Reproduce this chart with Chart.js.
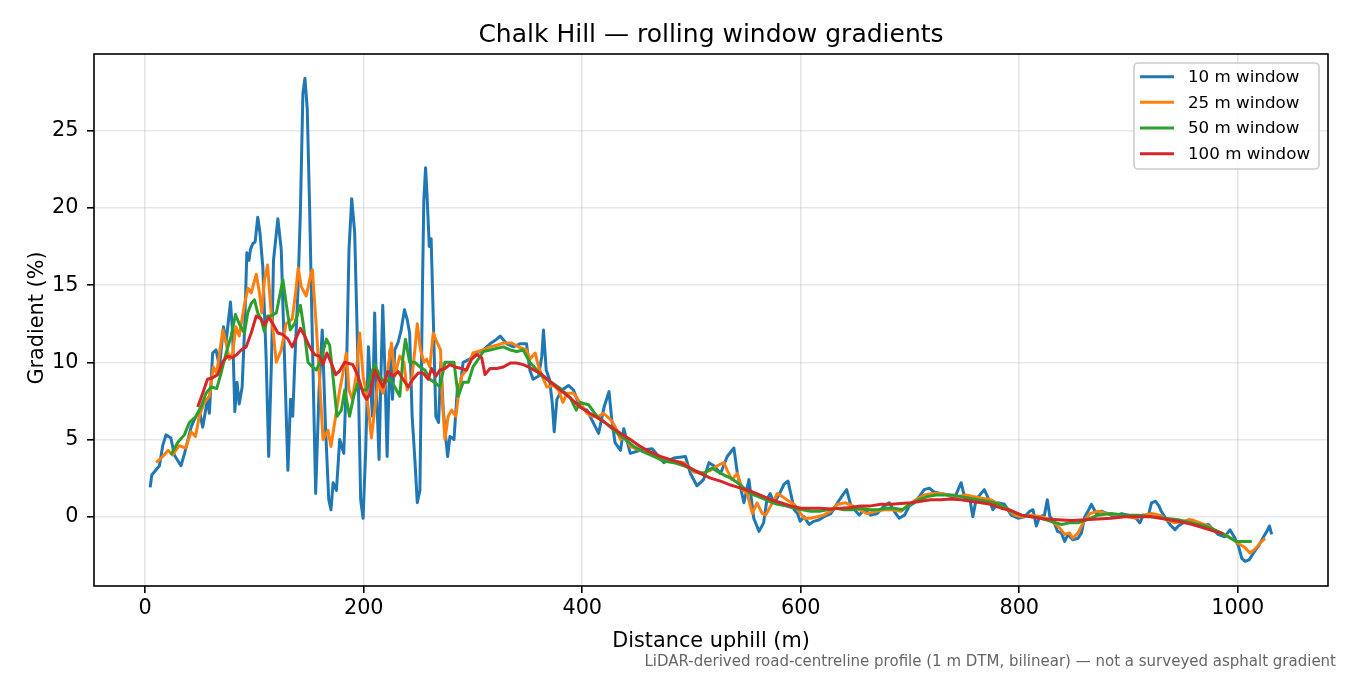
<!DOCTYPE html>
<html>
<head>
<meta charset="utf-8">
<title>Chalk Hill — rolling window gradients</title>
<script src="https://cdn.jsdelivr.net/npm/chart.js@4.4.1/dist/chart.umd.min.js"></script>
<style>
    html, body { margin: 0; padding: 0; background: #fff; }
    #wrap { width: 1350px; height: 675px; }
</style>
</head>
<body>
<div id="wrap"><canvas id="gradientChart" width="1350" height="675"></canvas></div>
<script>
// Axis ticks and labels
const xTicks = [0, 200, 400, 600, 800, 1000];
const yTicks = [0, 5, 10, 15, 20, 25];
const seriesLabels = ['10 m window', '25 m window', '50 m window', '100 m window'];
const seriesColors = ['#1f77b4', '#ff7f0e', '#2ca02c', '#d62728'];

// 10 m window (distance m / gradient %)
const dist10 = [4.5, 6, 13, 16, 19, 23.5, 26.6, 32.7, 36, 42, 45, 49.5, 52.6, 57, 58.7, 61.7, 64.8, 68, 71.6, 74,
    78, 80, 82, 84, 86, 88.7, 91, 93, 95, 96.3, 98.5, 100.6, 103, 105, 107.6, 110.7, 113, 115.6, 117.4, 121.4,
    124.5, 126.6, 130.6, 133, 135, 137, 139.7, 142, 144.3, 146.2, 148.3, 150.5, 153, 156, 159, 162, 165, 168, 170, 172,
    175, 178, 181.7, 184, 186.5, 189, 191.7, 194.8, 197.2, 199.4, 201.8, 204.3, 206, 208, 210, 211.7, 214, 215.6, 217.4, 219.3,
    221.4, 224, 226.3, 228.4, 231.5, 234, 237.3, 239.7, 242, 244.3, 246.8, 249, 251.4, 253.8, 255, 256.6, 258, 260, 261.7, 263.6,
    266, 268.5, 270.6, 272.8, 275.2, 276.8, 278.9, 282.6, 285.6, 288.7, 291, 297, 303.4, 309.5, 315.6, 321.7, 324.8, 331, 337, 343,
    349, 352, 355, 360, 363, 364.5, 367, 370, 372.5, 374.3, 376.8, 381.3, 387.4, 392, 398, 404.3, 410, 415, 420, 424.5,
    427, 430, 435, 438, 444, 453, 464, 474.6, 483.8, 494.5, 499, 505, 511, 516, 520.5, 526.6, 532.7, 538.8, 542, 548,
    552.6, 557, 561.8, 566, 569, 572, 575.5, 580, 584.7, 588.3, 591.5, 594, 597, 599.4, 603, 607.6, 612, 616.8, 621.4, 627.5,
    633.7, 638.3, 642, 645.9, 650.5, 653.5, 658, 664, 670, 676.5, 681, 685.6, 690, 695, 699.4, 704, 708.5, 713, 717.7, 722,
    728, 734.6, 740.7, 746.8, 750.5, 754.4, 757.5, 760.5, 765, 768, 771, 775.9, 780.5, 786.5, 792.7, 798.8, 805, 809.5, 812.6, 815.6,
    818.6, 823, 825.7, 828, 831, 835, 838.5, 841.6, 844.6, 849, 853.8, 856.9, 860, 863.6, 866, 870.6, 875, 881, 887, 893.6,
    899.7, 905.8, 910.4, 913.5, 918, 921, 924.8, 927.8, 930, 934, 937.9, 942.5, 945.6, 950, 954.8, 959.4, 964, 968.5, 973, 977.7,
    982, 988, 992.9, 997.5, 1000.6, 1003.7, 1006.7, 1010.4, 1014.4, 1019, 1023.6, 1026.6, 1029, 1031];
const grad10 = [1.9, 2.7, 3.3, 4.6, 5.3, 5.1, 4.0, 3.3, 4.1, 5.8, 6.3, 6.9, 5.8, 7.6, 6.7, 10.6, 10.8, 9.7, 12.3, 11.3,
    13.9, 11.9, 6.8, 8.7, 7.3, 8.4, 12.3, 17.1, 16.6, 17.3, 17.7, 17.8, 19.4, 18.4, 16.2, 10.2, 3.9, 10.2, 16.6, 19.3,
    17.3, 12.3, 3.0, 7.6, 6.5, 10.2, 14.5, 19.7, 27.4, 28.4, 26.4, 19.9, 11.3, 1.5, 8.0, 12.1, 5.8, 1.1, 0.45, 2.2,
    1.7, 5.0, 4.1, 8.7, 17.3, 20.6, 18.4, 9.7, 1.1, -0.1, 4.3, 11.0, 8.7, 6.5, 13.2, 8.2, 3.7, 8.7, 13.7, 9.7,
    3.9, 10.8, 7.6, 10.8, 11.3, 12.0, 13.4, 12.8, 11.9, 6.5, 3.7, 0.9, 1.7, 15.1, 20.5, 22.6, 20.7, 17.5, 18.0, 13.0,
    6.5, 6.1, 10.0, 6.9, 5.0, 3.9, 5.2, 5.0, 8.2, 8.7, 10.0, 10.2, 10.6, 10.8, 11.2, 11.5, 11.7, 11.2, 11.0, 11.2,
    11.2, 9.5, 8.9, 9.1, 10.4, 12.1, 9.5, 8.9, 7.4, 5.5, 7.6, 8.2, 8.5, 8.2, 7.1, 6.9, 6.1, 5.4, 7.1, 8.1,
    6.3, 4.8, 4.3, 5.7, 4.1, 4.3, 4.4, 3.5, 3.8, 3.9, 2.8, 2.0, 2.4, 3.5, 3.3, 2.8, 3.9, 4.45, 2.8, 0.9,
    2.4, -0.1, -0.95, -0.4, 1.1, 1.5, 0.9, 1.4, 2.1, 2.3, 1.3, 0.45, 0.2, -0.3, 0.0, -0.5, -0.3, -0.2, 0.0, 0.2,
    0.9, 1.4, 1.75, 0.7, 0.35, 0.1, 0.45, 0.1, 0.2, 0.7, 0.9, 0.35, -0.1, 0.1, 0.7, 0.9, 1.3, 1.75, 1.85, 1.6,
    1.5, 1.4, 1.2, 2.2, 1.1, 1.3, 0.0, 1.1, 1.5, 1.75, 1.3, 0.45, 0.9, 0.8, 0.1, -0.1, 0.0, 0.35, 0.45, -0.6,
    0.0, 0.1, 1.1, 0.0, -0.2, -0.95, -1.05, -1.6, -1.15, -1.5, -1.4, -1.05, 0.0, 0.45, 0.8, 0.2, 0.35, 0.2, 0.0, 0.2,
    0.1, 0.0, -0.4, 0.1, 0.0, 0.9, 1.0, 0.7, 0.35, -0.1, -0.5, -0.85, -0.6, -0.4, -0.2, -0.3, -0.5, -0.6, -0.5, -0.85,
    -1.15, -1.3, -0.85, -1.4, -1.9, -2.7, -2.9, -2.8, -2.35, -1.9, -1.3, -0.95, -0.6, -1.15];

// 25 m window
const dist25 = [10, 16, 21, 25, 31, 37, 42, 46, 49.5, 54, 58.7, 62.4, 65.4, 68, 71, 74, 77, 80, 83, 86,
    91, 94, 97, 101.6, 104.6, 106.7, 109, 112, 115, 120, 124.5, 129, 134.5, 137.6, 140, 142.8, 147.4, 150.5, 153, 156.6,
    160.3, 162.7, 167.3, 170, 173.4, 178, 181, 184, 186.5, 189.6, 193, 196.3, 199.4, 202.5, 205, 207, 210, 213, 217.7, 222,
    225.4, 228.4, 233, 236.7, 239.7, 243.7, 246.8, 249, 252, 255, 257.5, 260.5, 263.6, 266.7, 270.3, 272, 274.3, 277.3, 280.4, 284.4,
    286.5, 289.6, 294, 300, 309.5, 315.6, 321.7, 327.8, 335.4, 341.6, 349, 352, 357, 360, 364.5, 367.6, 373.7, 378.3, 382.3, 386,
    392, 398, 404.3, 408.9, 415, 419.5, 425.7, 430, 435, 439.4, 444, 453, 462, 474.6, 483.8, 493, 502, 509.8, 517.4, 523.5,
    529.6, 532.7, 537, 541.9, 546.5, 551, 555.7, 560, 564.8, 567.9, 572.5, 578.6, 583.2, 589.3, 594, 598.4, 603, 609, 615, 621,
    627.5, 633.7, 641, 647.4, 653.5, 661, 668.8, 676.5, 684, 691.7, 697.8, 705.5, 713, 720.8, 728, 735.6, 743.3, 751, 758.5, 766,
    774, 782, 789.6, 796, 802, 811, 820, 828, 835.5, 841.6, 846, 849, 853.8, 858.4, 864.5, 872, 881, 890.6, 899.7, 907,
    913.5, 921, 928.7, 934.9, 942.5, 950, 957.8, 965.4, 973, 980.7, 988.3, 996, 1002, 1006.7, 1011, 1015.9, 1020.5, 1025];
const grad25 = [3.5, 3.9, 4.3, 4.0, 4.6, 4.45, 5.5, 5.2, 6.5, 7.4, 7.8, 9.7, 9.3, 10.6, 12.1, 11.25, 10.2, 10.6, 12.3, 11.7,
    13.8, 14.8, 14.5, 15.7, 14.5, 13.2, 15.3, 16.3, 13.4, 10.0, 10.8, 12.5, 12.8, 14.5, 16.1, 14.9, 14.3, 15.35, 16.0, 12.3,
    8.0, 5.0, 5.6, 4.55, 6.1, 8.2, 9.3, 10.6, 8.2, 7.6, 9.1, 11.9, 9.1, 8.0, 6.5, 5.1, 6.9, 8.7, 8.0, 9.5,
    11.25, 9.1, 10.4, 10.0, 8.2, 8.7, 10.8, 12.5, 10.8, 10.0, 10.2, 9.7, 11.9, 11.35, 10.8, 7.4, 5.0, 6.5, 6.9, 6.5,
    7.8, 9.1, 9.5, 10.6, 10.8, 11.0, 11.1, 11.25, 11.25, 11.0, 10.8, 10.2, 10.6, 9.7, 8.9, 8.4, 8.5, 8.2, 7.4, 8.0,
    8.0, 7.4, 6.7, 6.5, 6.5, 6.7, 6.3, 5.85, 5.0, 5.2, 4.55, 4.3, 4.1, 3.7, 3.6, 3.5, 2.9, 2.8, 3.0, 3.3,
    3.5, 3.0, 2.4, 2.8, 1.75, 1.5, 0.2, 0.9, 0.2, 0.1, 0.7, 1.5, 1.3, 1.0, 0.8, 0.35, -0.1, -0.1, 0.0, 0.1,
    0.35, 0.8, 0.9, 0.7, 0.45, 0.2, 0.35, 0.45, 0.45, 0.35, 0.7, 1.1, 1.4, 1.5, 1.5, 1.4, 1.3, 1.4, 1.3, 1.2,
    1.1, 0.8, 0.45, 0.1, 0.0, 0.1, 0.0, -0.2, -0.6, -1.15, -1.05, -1.4, -1.05, -0.4, 0.2, 0.35, 0.2, 0.1, 0.0, -0.1,
    0.1, 0.2, 0.1, -0.2, -0.4, -0.3, -0.2, -0.4, -0.6, -0.95, -1.15, -1.5, -1.8, -2.0, -2.35, -2.1, -1.7, -1.4];

// 50 m window
const dist50 = [23.5, 29.7, 35.8, 40.4, 46.5, 51, 55.7, 60.2, 65.4, 69.4, 74, 78.6, 82.6, 86, 90.8, 93.8, 97, 100, 103, 106,
    109, 112, 115, 120, 123.6, 126, 129, 132.7, 136.7, 142, 145, 149, 153, 156.6, 161, 165.8, 168.8, 171.8, 175.5, 179.5,
    182.6, 187, 190.8, 194.8, 198.8, 202.5, 207, 210, 214.7, 219.3, 224, 228.4, 233, 236, 238.2, 242, 246.8, 251.4, 256, 260.5,
    265, 269.7, 274.3, 278.9, 282.6, 286.5, 291, 295.7, 300, 304.9, 309.5, 315.6, 321.7, 327.8, 334, 340, 346, 352, 358.5, 361.5,
    370.6, 380, 389, 394.5, 398, 405.8, 413.5, 421, 428.7, 437.9, 447, 456, 465.4, 474.6, 483.8, 493, 502, 511, 518.8, 526.6,
    535.8, 545, 554, 563, 571, 578.6, 586.2, 594, 601.5, 609, 616.8, 624.5, 632, 639.7, 647.4, 655, 662.7, 670.4, 678, 685.6,
    693.3, 701, 708.5, 716, 723.9, 731.5, 739, 746.8, 754.4, 762, 769.7, 777.4, 785, 792.7, 802, 811, 820, 829, 838.5, 846,
    853.8, 861.5, 872, 884, 896.6, 908.9, 921, 933, 945.6, 957.8, 970, 982, 991, 998.6, 1006.7, 1012.8];
const grad50 = [4.0, 4.8, 5.3, 6.1, 6.5, 7.1, 8.0, 8.4, 8.3, 9.3, 10.6, 11.7, 13.1, 12.5, 11.9, 13.2, 13.8, 14.05, 13.2, 12.8,
    12.0, 13.0, 13.0, 13.2, 14.5, 15.35, 13.8, 12.1, 12.5, 13.7, 12.3, 10.0, 9.7, 9.5, 10.2, 11.5, 11.1, 9.1, 6.5, 6.9,
    8.2, 6.5, 7.8, 8.7, 8.2, 8.2, 9.3, 9.85, 9.1, 8.7, 8.9, 8.4, 7.8, 10.4, 11.5, 10.0, 10.0, 9.7, 9.5, 8.9,
    8.7, 8.4, 10.0, 10.0, 10.0, 7.8, 8.7, 8.7, 9.7, 10.2, 10.7, 10.8, 10.9, 11.0, 10.8, 10.7, 10.8, 10.0, 9.5, 9.2,
    8.75, 8.3, 7.7, 6.9, 7.4, 7.25, 6.5, 6.1, 5.6, 5.1, 4.55, 4.2, 3.9, 3.6, 3.5, 3.3, 3.0, 2.8, 3.15, 2.8,
    2.5, 2.05, 1.5, 1.25, 1.0, 0.8, 0.7, 0.55, 0.45, 0.35, 0.35, 0.45, 0.55, 0.45, 0.45, 0.55, 0.45, 0.45, 0.55, 0.55,
    0.45, 0.9, 1.1, 1.3, 1.4, 1.4, 1.4, 1.3, 1.2, 1.1, 1.0, 0.9, 0.7, 0.35, 0.1, 0.0, -0.1, -0.3, -0.5, -0.4,
    -0.4, -0.2, 0.1, 0.2, 0.1, 0.1, 0.0, -0.1, -0.2, -0.4, -0.6, -0.95, -1.3, -1.6, -1.6, -1.6];

// 100 m window
const dist100 = [48, 52.6, 57, 61.7, 66.3, 71, 75.5, 80, 83.8, 87.8, 92.4, 97, 101.6, 106, 109, 113, 116.8, 121.4, 126, 130.6,
    134.5, 138.3, 142, 146, 150.5, 155, 159.6, 162.7, 166.3, 170.3, 174.3, 178, 182.6, 190, 194.8, 199.4, 202.5, 206, 210, 214,
    217.7, 222, 226.9, 231.5, 236, 240.6, 245, 249.8, 254.4, 259, 262, 266, 269.7, 274.3, 278.9, 283.5, 289.6, 294, 298.8, 303.4,
    308, 311, 315.6, 321.7, 327.8, 334, 340, 346, 352, 358.5, 361.5, 370.6, 380, 389, 398, 407, 416.5, 425.7, 434.9, 444,
    453, 462, 471.6, 480.7, 490, 499, 508, 517.4, 526.6, 535.8, 545, 554, 563, 572.5, 581.7, 590.8, 600, 609, 618, 627.5,
    636.7, 645.9, 655, 664, 673.4, 682.6, 691.7, 701, 710, 719, 728, 737.6, 746.8, 756, 765, 774, 783.5, 792.7, 802, 811,
    823, 835.5, 847.7, 860, 872, 884, 896.6, 908.9, 921, 933, 945.6, 957.8, 970, 979, 986.5];
const grad100 = [7.1, 8.0, 8.9, 9.0, 9.2, 10.05, 10.4, 10.3, 10.5, 10.8, 11.0, 11.9, 13.0, 12.8, 12.4, 12.9, 12.5, 11.9, 11.8, 11.5,
    11.0, 11.6, 12.2, 11.7, 11.0, 10.5, 10.4, 9.85, 10.6, 9.95, 9.2, 9.45, 10.0, 9.85, 9.1, 8.0, 7.6, 8.0, 9.5, 8.9,
    8.4, 9.4, 9.1, 9.4, 8.9, 8.4, 8.9, 9.3, 9.3, 8.9, 9.6, 9.1, 9.5, 9.6, 9.85, 9.7, 9.6, 9.5, 10.2, 10.5,
    10.3, 9.2, 9.6, 9.6, 9.7, 9.95, 9.95, 9.85, 9.65, 9.4, 9.3, 8.75, 8.2, 7.7, 7.1, 6.7, 6.3, 5.85, 5.4, 5.0,
    4.55, 4.2, 3.9, 3.7, 3.5, 3.15, 2.8, 2.5, 2.3, 2.05, 1.85, 1.65, 1.4, 1.1, 0.9, 0.7, 0.55, 0.55, 0.55, 0.5,
    0.55, 0.6, 0.7, 0.7, 0.8, 0.8, 0.85, 0.9, 1.0, 1.1, 1.1, 1.15, 1.1, 1.0, 0.9, 0.8, 0.55, 0.4, 0.1, 0.0,
    -0.15, -0.2, -0.25, -0.2, -0.15, -0.1, 0.0, 0.0, 0.0, -0.15, -0.3, -0.5, -0.75, -0.95, -1.1];

const titleText = 'Chalk Hill — rolling window gradients';
const xTitle = 'Distance uphill (m)';
const yTitle = 'Gradient (%)';
const footNote = 'LiDAR-derived road-centreline profile (1 m DTM, bilinear) — not a surveyed asphalt gradient';

const FONT = '"DejaVu Sans", sans-serif';
Chart.defaults.font.family = FONT;
Chart.defaults.color = '#000';

const toPoints = (xs, ys) => xs.map((x, i) => ({ x: x, y: ys[i] }));
const seriesData = [
    toPoints(dist10, grad10),
    toPoints(dist25, grad25),
    toPoints(dist50, grad50),
    toPoints(dist100, grad100)
];

// Frame, titles, footnote and the in-plot legend
const decorPlugin = {
    id: 'decor',
    afterDraw(chart) {
        const { ctx, chartArea: a } = chart;
        const midX = (a.left + a.right) / 2;
        ctx.save();

        ctx.strokeStyle = '#000';
        ctx.lineWidth = 1.6;
        ctx.strokeRect(a.left, a.top, a.right - a.left, a.bottom - a.top);

        ctx.fillStyle = '#000';
        ctx.textAlign = 'center';
        ctx.textBaseline = 'alphabetic';
        ctx.font = '25px ' + FONT;
        ctx.fillText(titleText, midX, 42);

        ctx.font = '20.8px ' + FONT;
        ctx.fillText(xTitle, midX, 646.5);

        ctx.save();
        ctx.translate(43, 318);
        ctx.rotate(-Math.PI / 2);
        ctx.fillText(yTitle, 0, 0);
        ctx.restore();

        ctx.font = '15px ' + FONT;
        ctx.fillStyle = '#666';
        ctx.textAlign = 'right';
        ctx.fillText(footNote, 1336, 666);

        // legend box
        const bx = 1134, by = 63, bw = 185, bh = 106;
        ctx.beginPath();
        ctx.roundRect(bx, by, bw, bh, 4);
        ctx.fillStyle = 'rgba(255,255,255,0.8)';
        ctx.fill();
        ctx.strokeStyle = '#cccccc';
        ctx.lineWidth = 1.6;
        ctx.stroke();

        ctx.font = '16.7px ' + FONT;
        ctx.textAlign = 'left';
        ctx.textBaseline = 'middle';
        seriesLabels.forEach((label, i) => {
            const rowY = 76.7 + i * 25.65;
            ctx.beginPath();
            ctx.moveTo(1140, rowY);
            ctx.lineTo(1174, rowY);
            ctx.strokeStyle = seriesColors[i];
            ctx.lineWidth = 3;
            ctx.stroke();
            ctx.fillStyle = '#000';
            ctx.fillText(label, 1188, rowY + 1);
        });

        ctx.restore();
    }
};

const gridStyle = {
    color: 'rgba(176,176,176,0.3)',
    lineWidth: 1.6,
    tickColor: '#000',
    tickLength: 7,
    tickWidth: 1.6
};

new Chart(document.getElementById('gradientChart'), {
    type: 'line',
    data: {
        datasets: seriesLabels.map((label, i) => ({
            label: label,
            data: seriesData[i],
            borderColor: seriesColors[i],
            backgroundColor: seriesColors[i],
            borderWidth: 3,
            pointRadius: 0,
            tension: 0,
            fill: false,
            borderJoinStyle: 'round',
            order: seriesLabels.length - i
        }))
    },
    options: {
        responsive: false,
        animation: false,
        devicePixelRatio: 1,
        layout: { padding: { top: 54, right: 22, left: 0, bottom: 0 } },
        plugins: {
            legend: { display: false },
            title: { display: false },
            tooltip: { enabled: false }
        },
        scales: {
            x: {
                type: 'linear',
                min: -46.9,
                max: 1082.6,
                afterBuildTicks: scale => { scale.ticks = xTicks.map(v => ({ value: v })); },
                afterFit: scale => { scale.height = 89; },
                grid: gridStyle,
                border: { display: false },
                ticks: {
                    font: { size: 20.8 },
                    color: '#000',
                    padding: 3,
                    maxRotation: 0,
                    callback: v => String(v)
                }
            },
            y: {
                type: 'linear',
                min: -4.49,
                max: 29.97,
                afterBuildTicks: scale => { scale.ticks = yTicks.map(v => ({ value: v })); },
                afterFit: scale => { scale.width = 94; },
                grid: gridStyle,
                border: { display: false },
                ticks: {
                    font: { size: 20.8 },
                    color: '#000',
                    padding: 8.5,
                    callback: v => String(v)
                }
            }
        }
    },
    plugins: [decorPlugin]
});
</script>
</body>
</html>
